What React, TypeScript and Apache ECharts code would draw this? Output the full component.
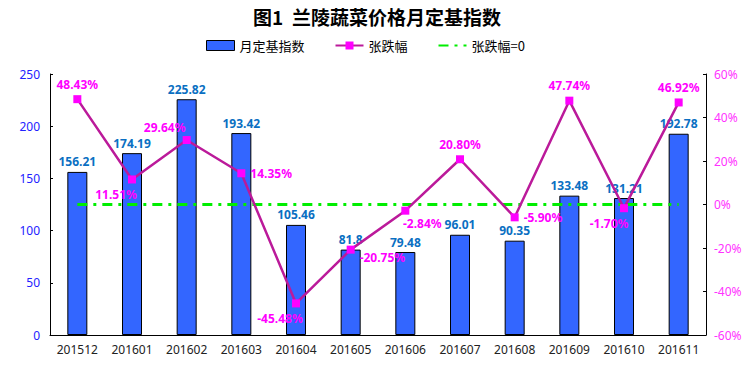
import React, { useEffect, useRef } from "react";
import * as echarts from "echarts";

const categories = ["201512", "201601", "201602", "201603", "201604", "201605", "201606", "201607", "201608", "201609", "201610", "201611"];
const indexValues = [156.21, 174.19, 225.82, 193.42, 105.46, 81.8, 79.48, 96.01, 90.35, 133.48, 131.21, 192.78];
const changeValues = [48.43, 11.51, 29.64, 14.35, -45.48, -20.75, -2.84, 20.8, -5.9, 47.74, -1.7, 46.92];
const zeroValues = [0, 0, 0, 0, 0, 0, 0, 0, 0, 0, 0, 0];
const changeLabelPos: [string, number, number][] = [
  ["top", 0, 0],
  ["bottom", -16, 0],
  ["top", -22, 2],
  ["right", 0, 0],
  ["bottom", -16, 0],
  ["right", 0, 8],
  ["bottom", 17, -2],
  ["top", 0, 0],
  ["right", 0, 0],
  ["top", 0, 0],
  ["bottom", -15, 0],
  ["top", 0, 0],
];

export default function App() {
  const ref = useRef<HTMLDivElement>(null);
  useEffect(() => {
    if (!ref.current) return;
    const chart = echarts.init(ref.current, null, { renderer: "svg" });
    const font = "'DejaVu Sans', 'Noto Sans CJK SC', sans-serif";
    const numFont = "'Noto Sans', 'DejaVu Sans', sans-serif";
    chart.setOption({
      animation: false,
      textStyle: { fontFamily: font },
      title: {
        text: "图1  兰陵蔬菜价格月定基指数",
        left: "center",
        top: 2,
        textStyle: { fontSize: 19, fontWeight: "bold", color: "#000", fontFamily: "'Noto Sans CJK SC', sans-serif" },
      },
      legend: {
        top: 34,
        left: 201,
        itemGap: 30,
        itemWidth: 28,
        itemHeight: 10,
        textStyle: { fontSize: 13, color: "#000", fontFamily: "'Noto Sans CJK SC', sans-serif" },
        data: [
          { name: "月定基指数", icon: "rect", itemStyle: { color: "#3366ff", borderColor: "#000", borderWidth: 1 } },
          { name: "张跌幅" },
          { name: "张跌幅=0", itemStyle: { opacity: 0 } },
        ],
      },
      grid: { left: 50, right: 48, top: 74, bottom: 31, containLabel: false },
      xAxis: {
        type: "category",
        data: categories,
        axisLine: { lineStyle: { color: "#000", width: 1 } },
        axisTick: { inside: true, length: 5, lineStyle: { color: "#000" } },
        axisLabel: { color: "#222", fontSize: 12, margin: 8, interval: 0, fontFamily: numFont },
      },
      yAxis: [
        {
          type: "value",
          min: 0,
          max: 250,
          interval: 50,
          axisLine: { show: true, lineStyle: { color: "#000" } },
          axisTick: { show: true, inside: true, length: 3, lineStyle: { color: "#000" } },
          axisLabel: { color: "#2222ff", fontSize: 12, margin: 10, fontFamily: numFont },
          splitLine: { show: false },
        },
        {
          type: "value",
          min: -60,
          max: 60,
          interval: 20,
          axisLine: { show: true, lineStyle: { color: "#000" } },
          axisTick: { show: true, inside: true, length: 3, lineStyle: { color: "#000" } },
          axisLabel: { color: "#ff33ff", fontSize: 12, margin: 8, formatter: "{value}%", fontFamily: numFont },
          splitLine: { show: false },
        },
      ],
      series: [
        {
          name: "月定基指数",
          type: "bar",
          data: indexValues,
          barWidth: 20,
          itemStyle: { color: "#3366ff", borderColor: "#000", borderWidth: 1 },
          label: { show: true, position: "top", color: "#0a6fc2", fontWeight: "bold", fontSize: 12, distance: 4, fontFamily: numFont },
        },
        {
          name: "张跌幅",
          type: "line",
          yAxisIndex: 1,
          data: changeValues.map((v, i) => ({
            value: v,
            label: {
              position: changeLabelPos[i][0],
              offset: [changeLabelPos[i][1], changeLabelPos[i][2]],
            },
          })),
          symbol: "rect",
          symbolSize: 8,
          lineStyle: { color: "#bb1a9a", width: 2.5 },
          itemStyle: { color: "#ff00ff" },
          label: {
            show: true,
            color: "#ff00ff",
            fontWeight: "bold",
            fontSize: 12,
            distance: 5,
            fontFamily: numFont,
            formatter: (p: any) => p.value.toFixed(2) + "%",
          },
          z: 3,
        },
        {
          name: "张跌幅=0",
          type: "line",
          yAxisIndex: 1,
          data: zeroValues,
          symbol: "none",
          lineStyle: { color: "#00ee00", width: 3, type: [10, 6, 3, 6] },
          itemStyle: { color: "#00ee00" },
          z: 2,
        },
      ],
    });
    return () => chart.dispose();
  }, []);
  return <div ref={ref} style={{ position: "absolute", left: 0, top: 0, width: 754, height: 366 }} />;
}
